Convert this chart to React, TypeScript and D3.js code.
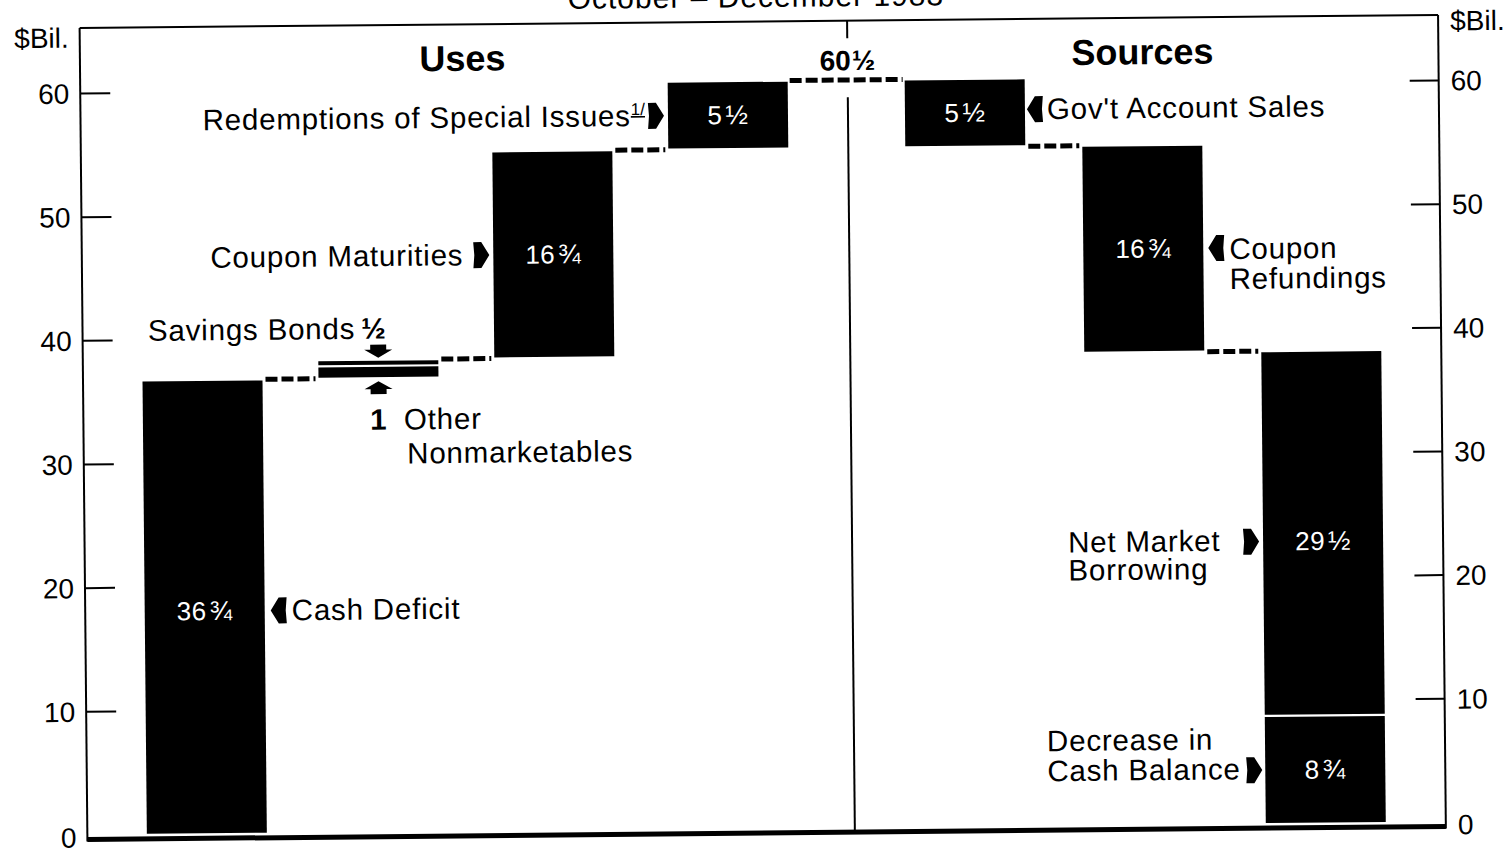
import React, { useEffect } from "react";
import * as d3 from "d3";

// ---------- data ----------
const titleText = "October – December 1983";
const useNames = ["Cash Deficit", "Other Nonmarketables", "Savings Bonds", "Coupon Maturities", "Redemptions of Special Issues"];
const useColumns = ["deficit", "nonmarketables", "nonmarketables", "maturities", "redemptions"];
const useValues = [36.75, 1, 0.5, 16.75, 5.5];
const sourceNames = ["Gov't Account Sales", "Coupon Refundings", "Net Market Borrowing", "Decrease in Cash Balance"];
const sourceColumns = ["govt", "refundings", "borrowing", "borrowing"];
const sourceValues = [5.5, 16.75, 29.5, 8.75];
const yTicks = [0, 10, 20, 30, 40, 50, 60];
const sectionTitles = ["Uses", "Sources"];
const unitLabel = "$Bil.";

// ---------- helpers ----------
const FONT = "'Liberation Sans', Arial, Helvetica, sans-serif";
const W = 1509;
const H = 849;

function frac(v: number) {
  const w = Math.floor(v + 1e-9);
  const r = Math.round((v - w) * 100) / 100;
  const f = r === 0.25 ? "¼" : r === 0.5 ? "½" : r === 0.75 ? "¾" : "";
  return { whole: w ? String(w) : "", f };
}

type Seg = { name: string; col: string; value: number; lo: number; hi: number };

function stackUp(names: string[], cols: string[], vals: number[]): Seg[] {
  let c = 0;
  return vals.map((v, i) => {
    const s = { name: names[i], col: cols[i], value: v, lo: c, hi: c + v };
    c += v;
    return s;
  });
}
function stackDown(names: string[], cols: string[], vals: number[], total: number): Seg[] {
  let c = total;
  return vals.map((v, i) => {
    const s = { name: names[i], col: cols[i], value: v, lo: c - v, hi: c };
    c -= v;
    return s;
  });
}

const RightArrow = ({ x, y }: { x: number; y: number }) => (
  <path transform={`translate(${x},${y})`} d="M0,0 L-8,-13 L-16,-13 L-15,0 L-16,13 L-8,13 Z" fill="#000" />
);
const LeftArrow = ({ x, y }: { x: number; y: number }) => (
  <path transform={`translate(${x},${y})`} d="M0,0 L8,-13 L16,-13 L15,0 L16,13 L8,13 Z" fill="#000" />
);
const DownArrow = ({ x, y }: { x: number; y: number }) => (
  <path transform={`translate(${x},${y})`} d="M0,0 L-14,-8 L-8,-8 L-8,-13 L8,-13 L8,-8 L14,-8 Z" fill="#000" />
);
const UpArrow = ({ x, y }: { x: number; y: number }) => (
  <path transform={`translate(${x},${y})`} d="M0,0 L-14,8 L-8,8 L-8,13 L8,13 L8,8 L14,8 Z" fill="#000" />
);

export default function App() {
  useEffect(() => {
    document.body.style.margin = "0";
    document.body.style.overflow = "hidden";
  }, []);

  const uses = stackUp(useNames, useColumns, useValues);
  const total = d3.sum(useValues);
  const sources = stackDown(sourceNames, sourceColumns, sourceValues, total);

  const y = d3.scaleLinear().domain([0, 60]).range([829, 87]);
  const xU = d3.scaleBand<string>().domain(Array.from(new Set(useColumns))).range([143, 791]).paddingInner(56 / 176);
  const xS = d3.scaleBand<string>().domain(Array.from(new Set(sourceColumns))).range([908, 1382]).paddingInner(57 / 177);
  const bw = xU.bandwidth();

  const FL = 83.5, FR = 1442, FT = 21.5, FB = 833;
  const CX = 851;

  const colExt = (segs: Seg[], x: d3.ScaleBand<string>) =>
    x.domain().map((c) => {
      const s = segs.filter((d) => d.col === c);
      return { col: c, x0: x(c)!, x1: x(c)! + x.bandwidth(), lo: d3.min(s, (d) => d.lo)!, hi: d3.max(s, (d) => d.hi)! };
    });
  const uCols = colExt(uses, xU);
  const sCols = colExt(sources, xS);

  const dashes: { x0: number; x1: number; v: number }[] = [];
  for (let i = 0; i < uCols.length - 1; i++) dashes.push({ x0: uCols[i].x1 + 3, x1: uCols[i + 1].x0 - 3, v: uCols[i].hi });
  dashes.push({ x0: uCols[uCols.length - 1].x1 + 2, x1: sCols[0].x0 - 2, v: total });
  for (let i = 0; i < sCols.length - 1; i++) dashes.push({ x0: sCols[i].x1 + 3, x1: sCols[i + 1].x0 - 3, v: sCols[i].lo });

  const mid = (s: Seg) => y((s.lo + s.hi) / 2);
  const seg = (arr: Seg[], name: string) => arr.find((d) => d.name === name)!;

  const bars = [
    ...uses.map((d) => ({ ...d, x: xU(d.col)! })),
    ...sources.map((d) => ({ ...d, x: xS(d.col)! })),
  ];

  const labelStyle = { fontFamily: FONT, fontSize: 29.5, fill: "#000", letterSpacing: 0.8 } as const;

  const valueLabel = (d: Seg & { x: number }, dy = 0) => {
    const fr = frac(d.value);
    return (
      <text key={"v" + d.name} x={d.x + bw / 2} y={mid(d) + dy + 9} textAnchor="middle" fill="#fff" fontFamily={FONT} fontSize={26} letterSpacing={0.5}>
        {fr.whole}
        {fr.f && <tspan dx={3} fontSize={27}>{fr.f}</tspan>}
      </text>
    );
  };

  const sDef = seg(uses, "Cash Deficit");
  const sOther = seg(uses, "Other Nonmarketables");
  const sSav = seg(uses, "Savings Bonds");
  const sMat = seg(uses, "Coupon Maturities");
  const sRed = seg(uses, "Redemptions of Special Issues");
  const sGov = seg(sources, "Gov't Account Sales");
  const sRef = seg(sources, "Coupon Refundings");
  const sNet = seg(sources, "Net Market Borrowing");
  const sDec = seg(sources, "Decrease in Cash Balance");

  const thinX = xU(sOther.col)! + bw / 2;
  const netY = mid(sNet) + 8;

  return (
    <svg width={W} height={H} style={{ display: "block", position: "absolute", left: 0, top: 0, background: "#fff" }}>
      <rect x={0} y={0} width={W} height={H} fill="#fff" />
      <g transform="rotate(-0.55 760 430)">
        {/* title (cut off at top) */}
        <text x={760} y={7} textAnchor="middle" fontFamily={FONT} fontSize={30} letterSpacing={1}>{titleText}</text>

        {/* frame */}
        <line x1={FL} x2={FR} y1={FT} y2={FT} stroke="#000" strokeWidth={2} />
        <line x1={FL} x2={FL} y1={FT} y2={FB + 2} stroke="#000" strokeWidth={2} />
        <line x1={FR} x2={FR} y1={FT} y2={FB + 2} stroke="#000" strokeWidth={2} />
        <line x1={FL} x2={FR} y1={FB} y2={FB} stroke="#000" strokeWidth={5} />

        {/* center divider */}
        <line x1={CX} x2={CX} y1={FT} y2={39} stroke="#000" strokeWidth={2} />
        <line x1={CX} x2={CX} y1={98} y2={FB} stroke="#000" strokeWidth={2} />

        {/* ticks */}
        {yTicks.filter((t) => t > 0).map((t) => (
          <g key={"t" + t}>
            <line x1={FL} x2={FL + 30} y1={y(t)} y2={y(t)} stroke="#000" strokeWidth={2} />
            <line x1={FR - 29} x2={FR} y1={y(t)} y2={y(t)} stroke="#000" strokeWidth={2} />
          </g>
        ))}
        {yTicks.map((t) => (
          <g key={"tl" + t} fontFamily={FONT} fontSize={28}>
            <text x={FL - 11} y={y(t) + (t === 0 ? 12 : 10)} textAnchor="end">{t}</text>
            <text x={FR + 12} y={y(t) + (t === 0 ? 12 : 10)} textAnchor="start">{t}</text>
          </g>
        ))}
        <text x={FL - 11} y={41} textAnchor="end" fontFamily={FONT} fontSize={28}>{unitLabel}</text>
        <text x={FR + 12} y={37} textAnchor="start" fontFamily={FONT} fontSize={28}>{unitLabel}</text>

        {/* section titles */}
        <text x={466} y={68} textAnchor="middle" fontFamily={FONT} fontSize={36} fontWeight="bold">{sectionTitles[0]}</text>
        <text x={1146} y={68} textAnchor="middle" fontFamily={FONT} fontSize={36} fontWeight="bold">{sectionTitles[1]}</text>

        {/* total */}
        <text x={CX} y={71} textAnchor="middle" fontFamily={FONT} fontSize={28} fontWeight="bold">
          {frac(total).whole}<tspan dx={1}>{frac(total).f}</tspan>
        </text>

        {/* dashes */}
        {dashes.map((d, i) => (
          <line key={"d" + i} x1={d.x0} x2={d.x1} y1={y(d.v)} y2={y(d.v)} stroke="#000" strokeWidth={5} strokeDasharray="12 4" />
        ))}

        {/* bars */}
        {bars.map((d) => (
          <rect key={"b" + d.name} x={d.x} y={y(d.hi) + 1.1} width={bw} height={Math.max(1, y(d.lo) - y(d.hi) - 2.2)} fill="#000" />
        ))}

        {/* value labels inside bars */}
        {valueLabel({ ...sDef, x: xU(sDef.col)! }, 4)}
        {valueLabel({ ...sMat, x: xU(sMat.col)! })}
        {valueLabel({ ...sRed, x: xU(sRed.col)! })}
        {valueLabel({ ...sGov, x: xS(sGov.col)! })}
        {valueLabel({ ...sRef, x: xS(sRef.col)! })}
        {valueLabel({ ...sNet, x: xS(sNet.col)! }, 8)}
        {valueLabel({ ...sDec, x: xS(sDec.col)! })}

        {/* annotations: uses */}
        <LeftArrow x={xU(sDef.col)! + bw + 6} y={mid(sDef) + 4} />
        <text x={xU(sDef.col)! + bw + 27} y={mid(sDef) + 14} {...labelStyle}>{sDef.name}</text>

        <text x={149} y={335} {...labelStyle}>
          {sSav.name}
          <tspan dx={6} fontWeight="bold">{frac(sSav.value).f}</tspan>
        </text>
        <DownArrow x={thinX} y={y(sSav.hi) - 2} />
        <UpArrow x={thinX} y={y(sOther.lo) + 3} />
        <text x={thinX} y={426} textAnchor="middle" {...labelStyle} fontWeight="bold">{frac(sOther.value).whole}</text>
        <text x={404} y={426} {...labelStyle}>Other</text>
        <text x={407} y={460} {...labelStyle}>Nonmarketables</text>

        <RightArrow x={xU(sMat.col)! - 4} y={mid(sMat)} />
        <text x={xU(sMat.col)! - 30} y={mid(sMat) + 10} textAnchor="end" {...labelStyle}>{sMat.name}</text>

        <RightArrow x={xU(sRed.col)! - 4} y={mid(sRed)} />
        <text x={xU(sRed.col)! - 23} y={mid(sRed) + 10} textAnchor="end" {...labelStyle}>
          {sRed.name}
          <tspan fontSize={17} dy={-11} textDecoration="underline" letterSpacing={0}>1/</tspan>
        </text>

        {/* annotations: sources */}
        <LeftArrow x={xS(sGov.col)! + bw + 2} y={mid(sGov) - 3} />
        <text x={xS(sGov.col)! + bw + 22} y={mid(sGov) + 7} {...labelStyle}>{sGov.name}</text>

        <LeftArrow x={xS(sRef.col)! + bw + 5} y={mid(sRef)} />
        <text x={xS(sRef.col)! + bw + 26} y={mid(sRef) + 11} {...labelStyle}>Coupon</text>
        <text x={xS(sRef.col)! + bw + 26} y={mid(sRef) + 41} {...labelStyle}>Refundings</text>

        <RightArrow x={xS(sNet.col)! - 4} y={netY} />
        <text x={1067} y={netY + 9} {...labelStyle}>Net Market</text>
        <text x={1067} y={netY + 37} {...labelStyle}>Borrowing</text>

        <RightArrow x={xS(sDec.col)! - 3} y={mid(sDec)} />
        <text x={1044} y={mid(sDec) - 21} {...labelStyle}>Decrease in</text>
        <text x={1044} y={mid(sDec) + 9} {...labelStyle}>Cash Balance</text>
      </g>
    </svg>
  );
}
